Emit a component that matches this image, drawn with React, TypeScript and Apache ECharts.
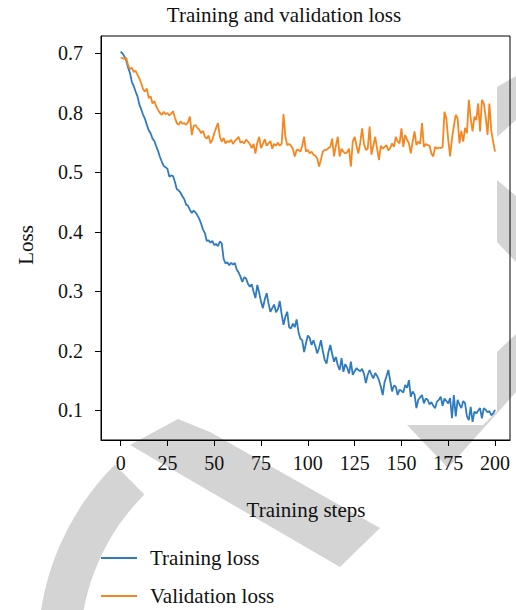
import React, { useEffect, useRef } from "react";
import * as echarts from "echarts";

const trainingLoss: number[] = [
  0.703, 0.700, 0.695, 0.688, 0.676, 0.667, 0.652, 0.645, 0.636, 0.628,
  0.614, 0.606, 0.597, 0.590, 0.580, 0.571, 0.566, 0.557, 0.553, 0.544,
  0.536, 0.526, 0.518, 0.511, 0.509, 0.506, 0.493, 0.495, 0.494, 0.484,
  0.472, 0.470, 0.466, 0.460, 0.455, 0.446, 0.444, 0.437, 0.432, 0.436,
  0.433, 0.428, 0.422, 0.414, 0.404, 0.398, 0.385, 0.386, 0.382, 0.385,
  0.378, 0.380, 0.376, 0.384, 0.381, 0.355, 0.347, 0.349, 0.344, 0.348,
  0.345, 0.348, 0.337, 0.332, 0.325, 0.316, 0.324, 0.322, 0.313, 0.308,
  0.312, 0.300, 0.289, 0.311, 0.298, 0.283, 0.272, 0.287, 0.297, 0.280,
  0.266, 0.272, 0.278, 0.265, 0.270, 0.284, 0.262, 0.244, 0.258, 0.266,
  0.240, 0.238, 0.246, 0.240, 0.253, 0.232, 0.221, 0.218, 0.198, 0.213,
  0.226, 0.222, 0.210, 0.218, 0.208, 0.196, 0.205, 0.218, 0.200, 0.185,
  0.179, 0.198, 0.210, 0.195, 0.182, 0.190, 0.176, 0.168, 0.188, 0.165,
  0.178, 0.172, 0.162, 0.182, 0.160, 0.166, 0.171, 0.168, 0.166, 0.170,
  0.162, 0.146, 0.160, 0.168, 0.160, 0.154, 0.163, 0.158, 0.151, 0.140,
  0.126, 0.148, 0.157, 0.168, 0.150, 0.132, 0.142, 0.140, 0.126, 0.135,
  0.133, 0.130, 0.143, 0.138, 0.151, 0.123, 0.132, 0.127, 0.104, 0.118,
  0.122, 0.126, 0.112, 0.120, 0.118, 0.110, 0.114, 0.108, 0.104, 0.115,
  0.118, 0.123, 0.108, 0.120, 0.116, 0.112, 0.121, 0.087, 0.126, 0.090,
  0.118, 0.110, 0.104, 0.116, 0.112, 0.090, 0.084, 0.106, 0.081, 0.098,
  0.095, 0.100, 0.104, 0.087, 0.104, 0.101, 0.097, 0.099, 0.092, 0.095,
  0.101,
];

const validationLoss: number[] = [
  0.693, 0.692, 0.691, 0.693, 0.680, 0.674, 0.676, 0.669, 0.671, 0.664,
  0.658, 0.650, 0.640, 0.636, 0.641, 0.625, 0.628, 0.616, 0.620, 0.611,
  0.605, 0.600, 0.597, 0.602, 0.598, 0.600, 0.596, 0.599, 0.603, 0.592,
  0.583, 0.580, 0.586, 0.582, 0.583, 0.580, 0.585, 0.594, 0.563, 0.578,
  0.580, 0.575, 0.572, 0.566, 0.570, 0.560, 0.557, 0.562, 0.549, 0.555,
  0.566, 0.575, 0.583, 0.560, 0.552, 0.558, 0.549, 0.553, 0.551, 0.555,
  0.548, 0.553, 0.556, 0.560, 0.550, 0.552, 0.549, 0.555, 0.552, 0.548,
  0.541, 0.548, 0.532, 0.550, 0.560, 0.541, 0.548, 0.556, 0.545, 0.549,
  0.553, 0.540, 0.548, 0.545, 0.550, 0.545, 0.548, 0.598, 0.560, 0.546,
  0.548, 0.545, 0.540, 0.527, 0.538, 0.538, 0.535, 0.545, 0.560, 0.535,
  0.538, 0.532, 0.535, 0.530, 0.528, 0.524, 0.510, 0.522, 0.535, 0.538,
  0.538, 0.541, 0.543, 0.557, 0.527, 0.545, 0.560, 0.527, 0.540, 0.535,
  0.532, 0.534, 0.540, 0.510, 0.552, 0.560, 0.545, 0.532, 0.550, 0.574,
  0.548, 0.538, 0.540, 0.577, 0.530, 0.545, 0.560, 0.540, 0.521, 0.545,
  0.540, 0.543, 0.546, 0.537, 0.541, 0.549, 0.543, 0.560, 0.552, 0.549,
  0.574, 0.543, 0.563, 0.555, 0.549, 0.532, 0.552, 0.569, 0.546, 0.552,
  0.548, 0.583, 0.543, 0.548, 0.546, 0.545, 0.532, 0.527, 0.543, 0.540,
  0.542, 0.541, 0.543, 0.602, 0.591, 0.555, 0.527, 0.557, 0.578, 0.597,
  0.591, 0.549, 0.570, 0.552, 0.575, 0.566, 0.622, 0.591, 0.569, 0.594,
  0.588, 0.616, 0.569, 0.622, 0.616, 0.594, 0.563, 0.616, 0.570, 0.552,
  0.535,
];

const xTickValues: number[] = [0, 25, 50, 75, 100, 125, 150, 175, 200];
const yTickValues: number[] = [0.1, 0.2, 0.3, 0.4, 0.5, 0.6, 0.7];
const yTickLabels: string[] = ["0.1", "0.2", "0.3", "0.4", "0.5", "0.8", "0.7"];
const seriesNames: string[] = ["Training loss", "Validation loss"];

const FONT = "'Liberation Serif', 'Times New Roman', serif";
const WM = "#d4d4d4";
const TXT = "#111";

export default function App() {
  const ref = useRef<HTMLDivElement>(null);

  useEffect(() => {
    document.body.style.margin = "0";
    if (!ref.current) return;
    const chart = echarts.init(ref.current, undefined, { renderer: "svg" });
    const wmPoly = (points: number[][]) => ({
      type: "polygon",
      z: -10,
      silent: true,
      shape: { points },
      style: { fill: WM },
    });
    chart.setOption({
      animation: false,
      backgroundColor: "#ffffff",
      textStyle: { fontFamily: FONT },
      grid: {
        left: 101,
        top: 36,
        width: 409,
        height: 404,
        show: true,
        borderColor: "#000",
        borderWidth: 1,
        backgroundColor: "transparent",
        outerBoundsMode: "none",
      },
      legend: {
        orient: "vertical",
        left: 101,
        top: 546,
        padding: 0,
        icon: "rect",
        itemWidth: 36,
        itemHeight: 1.8,
        itemGap: 14,
        data: seriesNames,
        textStyle: {
          fontFamily: FONT,
          fontSize: 21,
          color: TXT,
          lineHeight: 24,
          padding: [0, 0, 0, 8],
        },
      },
      xAxis: {
        type: "value",
        min: -10.5,
        max: 208,
        axisLine: { show: true, onZero: false, lineStyle: { color: "#000", width: 1 } },
        axisTick: {
          show: true,
          length: 6,
          customValues: xTickValues,
          lineStyle: { color: "#000" },
        },
        axisLabel: {
          customValues: xTickValues,
          margin: 13,
          fontFamily: FONT,
          fontSize: 20,
          color: TXT,
        },
        splitLine: { show: false },
      },
      yAxis: {
        type: "value",
        min: 0.0504,
        max: 0.7294,
        axisLine: { show: true, onZero: false, lineStyle: { color: "#000", width: 1 } },
        axisTick: {
          show: true,
          length: 6,
          customValues: yTickValues,
          lineStyle: { color: "#000" },
        },
        axisLabel: {
          customValues: yTickValues,
          margin: 18,
          fontFamily: FONT,
          fontSize: 20,
          color: TXT,
          formatter: (v: number) => {
            const i = yTickValues.findIndex((t) => Math.abs(t - v) < 1e-6);
            return i >= 0 ? yTickLabels[i] : "";
          },
        },
        splitLine: { show: false },
      },
      graphic: [
        {
          type: "sector",
          z: -10,
          silent: true,
          shape: {
            cx: 300,
            cy: 650,
            r: 262,
            r0: 220,
            startAngle: (140 * Math.PI) / 180,
            endAngle: (225 * Math.PI) / 180,
            clockwise: true,
          },
          style: { fill: WM },
        },
        wmPoly([[130, 445], [178, 419], [210, 432], [380, 528], [340, 567]]),
        wmPoly([[497, 87], [516, 76], [516, 120], [497, 137]]),
        wmPoly([[497, 180], [516, 196], [516, 262], [497, 242]]),
        wmPoly([[497, 352], [516, 334], [516, 392], [448, 468], [407, 425], [483, 425], [497, 411]]),
        {
          type: "text",
          x: 284,
          y: 15,
          style: {
            text: "Training and validation loss",
            fontFamily: FONT,
            fontSize: 21,
            fill: TXT,
            align: "center",
            verticalAlign: "middle",
          },
        },
        {
          type: "text",
          x: 306,
          y: 510,
          style: {
            text: "Training steps",
            fontFamily: FONT,
            fontSize: 21,
            fill: TXT,
            align: "center",
            verticalAlign: "middle",
          },
        },
        {
          type: "text",
          x: 26,
          y: 245,
          rotation: Math.PI / 2,
          style: {
            text: "Loss",
            fontFamily: FONT,
            fontSize: 21,
            fill: TXT,
            align: "center",
            verticalAlign: "middle",
          },
        },
      ],
      series: [
        {
          name: seriesNames[0],
          type: "line",
          data: trainingLoss.map((v, i) => [i, v]),
          showSymbol: false,
          symbol: "none",
          lineStyle: { color: "#2f7bbf", width: 1.8 },
          itemStyle: { color: "#2f7bbf" },
          z: 3,
        },
        {
          name: seriesNames[1],
          type: "line",
          data: validationLoss.map((v, i) => [i, v]),
          showSymbol: false,
          symbol: "none",
          lineStyle: { color: "#f6861f", width: 1.8 },
          itemStyle: { color: "#f6861f" },
          z: 4,
        },
      ],
    });
    return () => chart.dispose();
  }, []);

  return <div ref={ref} style={{ width: 516, height: 610 }} />;
}
